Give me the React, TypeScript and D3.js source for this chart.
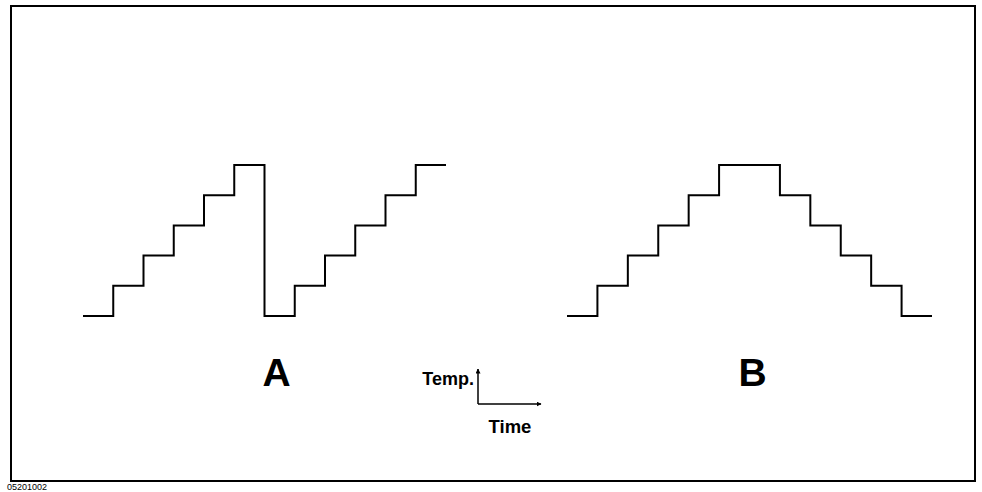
import React, { useEffect, useRef } from 'react'
import * as d3 from 'd3'

// time steps (one unit per dwell step) and temperature levels
const steps = [0, 1, 2, 3, 4, 5, 6, 7, 8, 9, 10, 11, 12]
const levelsA = [0, 1, 2, 3, 4, 5, 0, 1, 2, 3, 4, 5, 5]
const levelsB = [0, 1, 2, 3, 4, 5, 5, 4, 3, 2, 1, 0, 0]
const labels = ['A', 'B']
const axisLabels = ['Temp.', 'Time']
const figureId = '05201002'

export default function App() {
  const ref = useRef<SVGSVGElement>(null)

  useEffect(() => {
    const width = 982
    const height = 492
    const svg = d3.select(ref.current)
    svg.selectAll('*').remove()
    svg.attr('width', width).attr('height', height)

    svg.append('rect')
      .attr('width', width).attr('height', height)
      .attr('fill', '#fff')

    // frame
    svg.append('rect')
      .attr('x', 11).attr('y', 6)
      .attr('width', 964).attr('height', 475)
      .attr('fill', 'none')
      .attr('stroke', '#000')
      .attr('stroke-width', 2)

    const y = d3.scaleLinear().domain([0, 5]).range([316, 165])
    const xA = d3.scaleLinear().domain([0, 12]).range([83, 446])
    const xB = d3.scaleLinear().domain([0, 12]).range([567, 932])

    const panels = [
      { x: xA, levels: levelsA, label: labels[0], at: 6.4 },
      { x: xB, levels: levelsB, label: labels[1], at: 6.1 },
    ]

    panels.forEach(p => {
      const line = d3.line<number>()
        .x(d => p.x(d))
        .y((d, i) => y(p.levels[i]))
        .curve(d3.curveStepAfter)

      svg.append('path')
        .datum(steps)
        .attr('d', line)
        .attr('fill', 'none')
        .attr('stroke', '#000')
        .attr('stroke-width', 2)

      svg.append('text')
        .attr('x', p.x(p.at))
        .attr('y', 386)
        .attr('text-anchor', 'middle')
        .attr('font-family', 'Liberation Sans, Arial, sans-serif')
        .attr('font-weight', 'bold')
        .attr('font-size', 39)
        .text(p.label)
    })

    // Temp / Time legend axes
    const defs = svg.append('defs')
    defs.append('marker')
      .attr('id', 'arrow')
      .attr('viewBox', '0 0 10 10')
      .attr('refX', 9).attr('refY', 5)
      .attr('markerWidth', 5).attr('markerHeight', 5)
      .attr('markerUnits', 'userSpaceOnUse')
      .attr('orient', 'auto')
      .append('path')
      .attr('d', 'M0,0 L10,5 L0,10 Z')
      .attr('fill', '#000')

    const ox = 478
    const oy = 404
    svg.append('path')
      .attr('d', `M${ox},${oy} L${ox},369`)
      .attr('stroke', '#000').attr('stroke-width', 1.5)
      .attr('fill', 'none')
      .attr('marker-end', 'url(#arrow)')
    svg.append('path')
      .attr('d', `M${ox},${oy} L541,${oy}`)
      .attr('stroke', '#000').attr('stroke-width', 1.5)
      .attr('fill', 'none')
      .attr('marker-end', 'url(#arrow)')

    svg.append('text')
      .attr('x', 474).attr('y', 385)
      .attr('text-anchor', 'end')
      .attr('font-family', 'Liberation Sans, Arial, sans-serif')
      .attr('font-weight', 'bold')
      .attr('font-size', 18)
      .text(axisLabels[0])
    svg.append('text')
      .attr('x', 510).attr('y', 433)
      .attr('text-anchor', 'middle')
      .attr('font-family', 'Liberation Sans, Arial, sans-serif')
      .attr('font-weight', 'bold')
      .attr('font-size', 18.5)
      .text(axisLabels[1])

    svg.append('text')
      .attr('x', 7).attr('y', 490)
      .attr('font-family', 'Liberation Sans Narrow, Arial, sans-serif')
      .attr('font-size', 9)
      .text(figureId)
  }, [])

  return <svg ref={ref} style={{ position: 'absolute', left: 0, top: 0 }}></svg>
}
